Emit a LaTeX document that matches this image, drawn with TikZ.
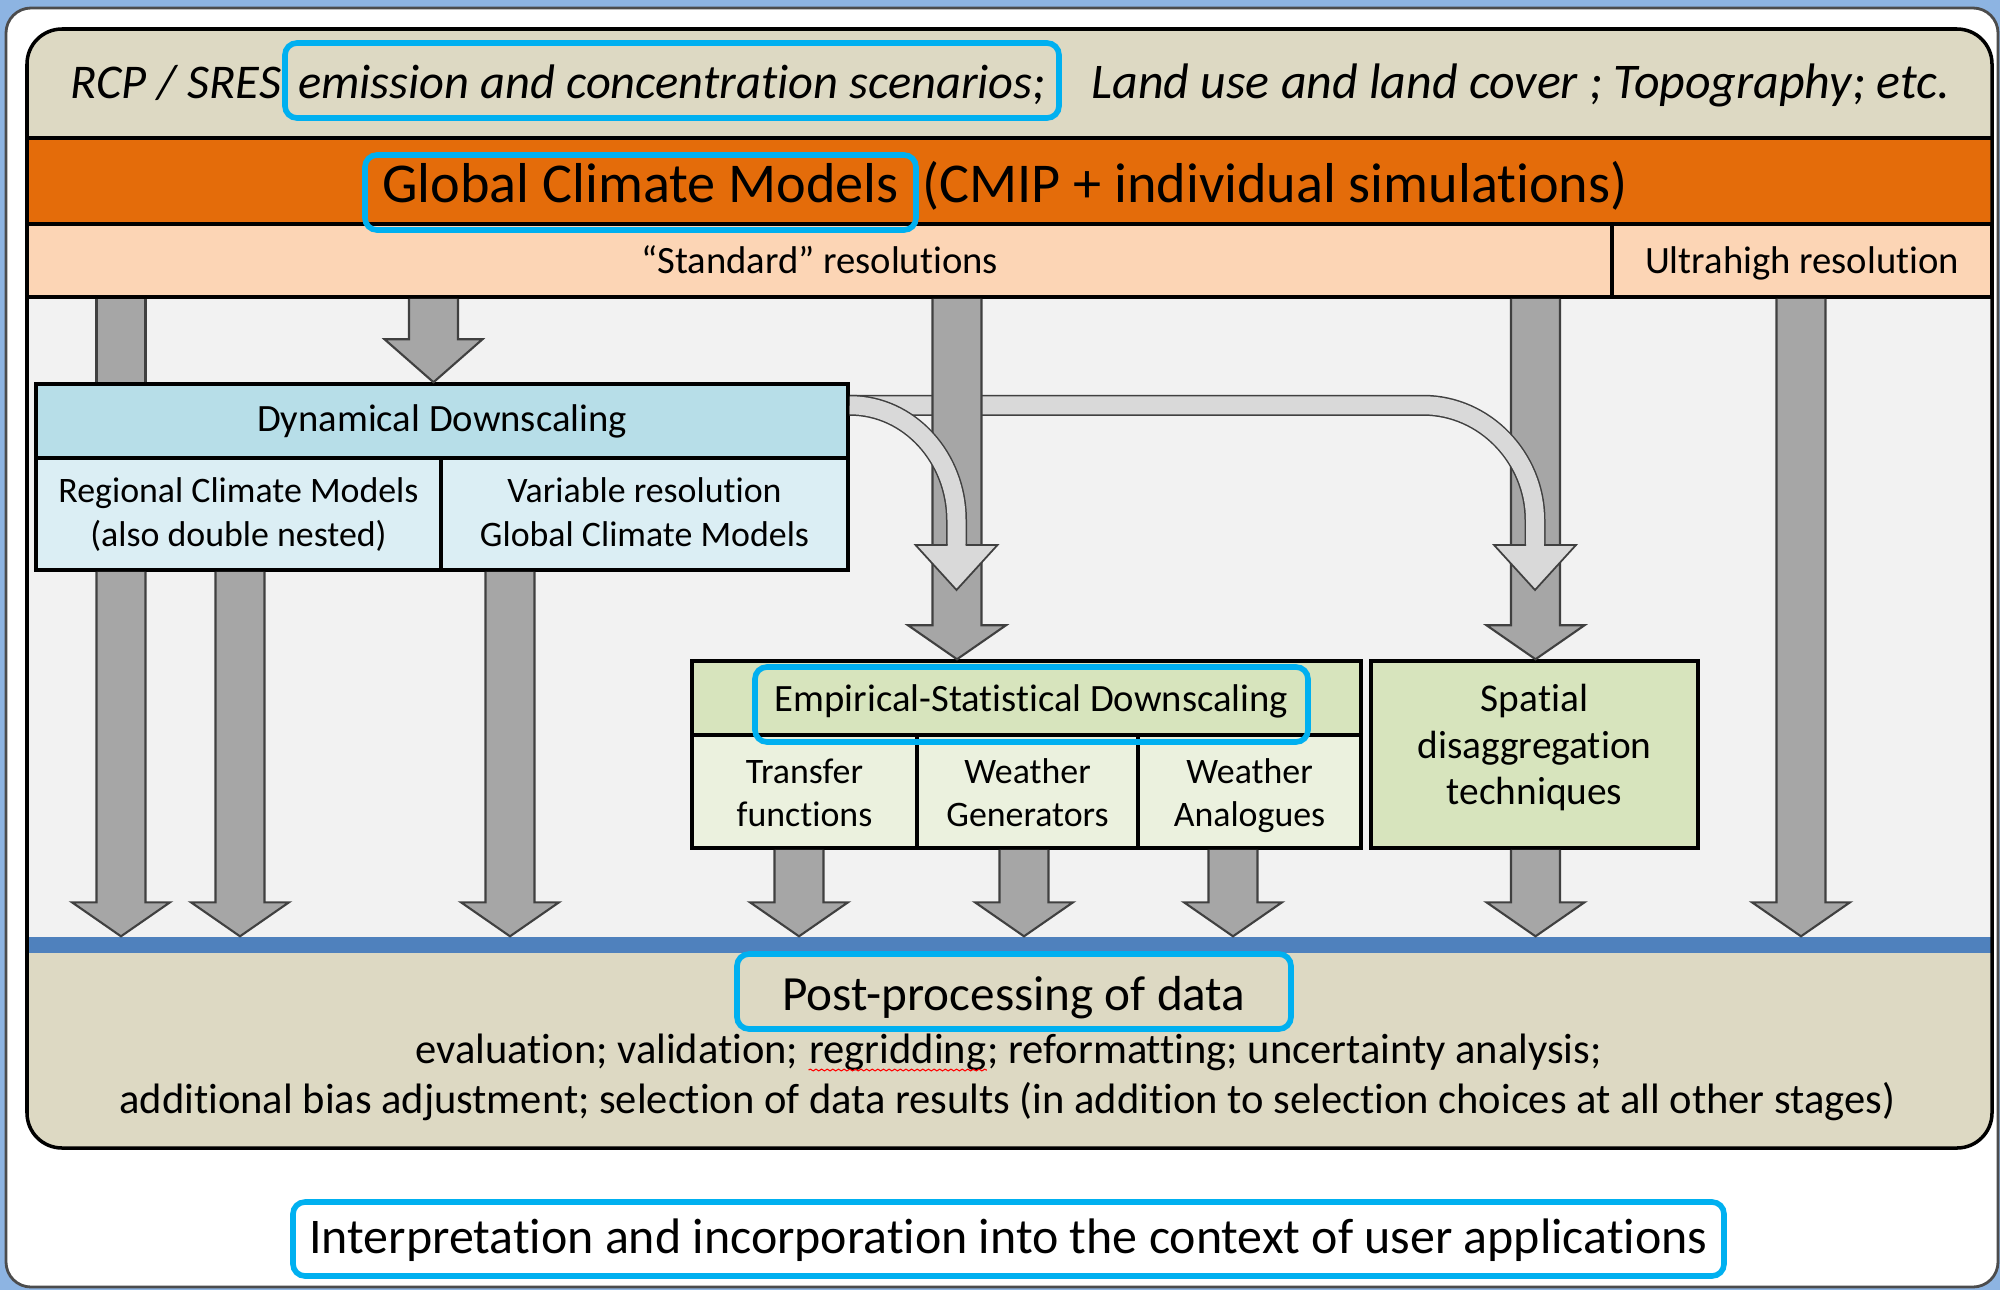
\documentclass[tikz,border=0pt]{standalone}
\usepackage{fontspec}
\setmainfont{Carlito}[Ligatures={TeX,NoCommon}]
\usetikzlibrary{calc,decorations.pathmorphing}

\definecolor{frameblue}{HTML}{8DB4E2}
\definecolor{beige}{HTML}{DDD9C3}
\definecolor{gcmorange}{HTML}{E46C0A}
\definecolor{peach}{HTML}{FCD5B5}
\definecolor{panelgray}{HTML}{F2F2F2}
\definecolor{bandblue}{HTML}{4F81BD}
\definecolor{hicyan}{HTML}{00B0F0}
\definecolor{ddhead}{HTML}{B7DEE8}
\definecolor{ddbody}{HTML}{DBEEF4}
\definecolor{esdhead}{HTML}{D7E4BD}
\definecolor{esdbody}{HTML}{EBF1DE}
\definecolor{arrowgray}{HTML}{A6A6A6}
\definecolor{arrowlight}{HTML}{D9D9D9}
\definecolor{arrowedge}{HTML}{404040}

% block arrow: [head length]{column}{from}{to}
\newcommand\bigarrow[4][0.34]{%
  \filldraw[darrow] ($(#3 -| #2)+(-0.245,0)$) -- ($(#4 -| #2)+(-0.245,-#1)$)
    -- ($(#4 -| #2)+(-0.49,-#1)$) -- (#4 -| #2) -- ($(#4 -| #2)+(0.49,-#1)$)
    -- ($(#4 -| #2)+(0.245,-#1)$) -- ($(#3 -| #2)+(0.245,0)$);}
\newcommand\bigshaft[3]{%
  \fill[arrowgray] ($(#2 -| #1)+(-0.245,0)$) rectangle ($(#3 -| #1)+(0.245,0)$);
  \draw[darrow] ($(#2 -| #1)+(-0.245,0)$) -- ($(#3 -| #1)+(-0.245,0)$)
    ($(#2 -| #1)+(0.245,0)$) -- ($(#3 -| #1)+(0.245,0)$);}
\newcommand\lighthead[1]{%
  \filldraw[lhead] ($(#1)+(-0.09,-0.45)$) -- ($(#1)+(-0.41,-0.45)$) -- (#1)
    -- ($(#1)+(0.41,-0.45)$) -- ($(#1)+(0.09,-0.45)$);}
\newcommand\toprow{\rule{0pt}{11pt}}
\newcommand\lastrow[1]{\rule[-#1]{0pt}{#1}}

\begin{document}
\begin{tikzpicture}[x=1cm, y=-1cm,
    every node/.append style={align=center, inner sep=0pt},
    cell/.style={draw, line width=1pt, font=\fontsize{11}{12}\selectfont},
    bodycell/.style={cell, font=\fontsize{10.2}{12.3}\selectfont},
    hilite/.style={draw=hicyan, line width=1.6pt, rounded corners=0.12cm},
    scen/.style={font=\fontsize{13.8}{16}\selectfont\itshape},
    post/.style={font=\fontsize{12.1}{14}\selectfont},
    darrow/.style={fill=arrowgray, draw=arrowedge, line width=0.6pt},
    lhead/.style={fill=arrowlight, draw=arrowedge, line width=0.5pt},
    lshaft/.style={draw=arrowlight, line width=0.18cm, preaction={draw=arrowedge, line width=0.21cm}}]

  \useasboundingbox (0,0) rectangle (20,12.9);
  \fill[frameblue] (0,0) rectangle (20,12.9);
  \draw[fill=white, draw=black!70, line width=0.8pt, rounded corners=0.25cm] (0.06,0.08) rectangle (19.98,12.87);

  % panel
  \fill[beige, rounded corners=0.35cm] (0.27,0.29) rectangle (19.92,11.48);
  \fill[gcmorange] (0.27,1.38) rectangle (19.92,2.24);
  \fill[panelgray] (0.27,2.97) rectangle (19.92,9.37);
  \draw[line width=1pt] (0.27,1.38) -- (19.92,1.38) (0.27,2.24) -- (19.92,2.24);

  \node[scen, anchor=base west] (rcp) at (0.70,0.98) {RCP / SRES};
  \node[hilite, scen, minimum width=7.74cm, text height=0.55cm, text depth=0.20cm, anchor=base] (emis) at (6.72,0.98) {emission and concentration scenarios;};
  \node[scen, font=\fontsize{14.2}{16}\selectfont\itshape, anchor=base west] (land) at (10.91,0.98) {Land use and land cover ; Topography; etc.};

  \node[cell, fill=peach, minimum width=15.85cm, minimum height=0.73cm, text height=0.30cm, text depth=0.05cm] (std) at (8.195,2.605) {“Standard” resolutions};
  \node[cell, fill=peach, minimum width=3.80cm, minimum height=0.73cm, text height=0.30cm, text depth=0.05cm] (ultra) at (18.02,2.605) {Ultrahigh resolution};
  \node[fill=bandblue, minimum width=19.65cm, minimum height=0.16cm] (band) at (10.095,9.45) {};

  \node[hilite, font=\fontsize{16}{19}\selectfont, minimum width=5.51cm, text height=0.47cm, text depth=0.28cm, anchor=base] (gcm) at (6.405,2.02) {Global Climate Models};
  \node[font=\fontsize{16}{19}\selectfont, anchor=base west] (cmip) at ($(gcm.base east)+(0.03,0)$) {(CMIP + individual simulations)};

  % downscaling boxes
  \node[cell, fill=ddhead, minimum width=8.12cm, minimum height=0.74cm] (ddh) at (4.42,4.21) {Dynamical Downscaling};
  \node[bodycell, fill=ddbody, minimum width=4.05cm, minimum height=1.12cm] (rcm) at (2.385,5.14) {\toprow Regional Climate Models\\(also double nested)\lastrow{5pt}};
  \node[bodycell, fill=ddbody, minimum width=4.07cm, minimum height=1.12cm] (vgcm) at (6.445,5.14) {\toprow Variable resolution\\Global Climate Models\lastrow{5pt}};

  \node[cell, fill=esdhead, minimum width=6.69cm, minimum height=0.74cm] (esdh) at (10.265,6.98) {};
  \node[bodycell, fill=esdbody, minimum width=2.25cm, minimum height=1.13cm] (tf) at (8.045,7.915) {\toprow Transfer\\functions\lastrow{3.4pt}};
  \node[bodycell, fill=esdbody, minimum width=2.21cm, minimum height=1.13cm] (wg) at (10.275,7.915) {\toprow Weather\\Generators\lastrow{3.4pt}};
  \node[bodycell, fill=esdbody, minimum width=2.23cm, minimum height=1.13cm] (wa) at (12.495,7.915) {\toprow Weather\\Analogues\lastrow{3.4pt}};
  \node[hilite, font=\fontsize{11}{12}\selectfont, minimum width=5.53cm, text height=0.44cm, text depth=0.31cm, anchor=base] (esd) at (10.315,7.11) {Empirical-Statistical Downscaling};
  \node[cell, fill=esdhead, minimum width=3.27cm, minimum height=1.87cm, font=\fontsize{11.2}{13.2}\selectfont] (sp) at (15.345,7.545) {Spatial\\disaggregation\\techniques\lastrow{5.6pt}};

  % arrows
  \coordinate (c1) at (1.21,0);  \coordinate (c2) at (2.40,0);
  \coordinate (c3) at (4.335,0); \coordinate (c4) at (5.10,0);
  \coordinate (c5) at (9.57,0);  \coordinate (c6) at (15.355,0);
  \coordinate (c7) at (18.01,0); \coordinate (c8) at (7.99,0);
  \coordinate (c9) at (10.24,0); \coordinate (c10) at (12.33,0);
  \coordinate (split) at ($(ddh.north east)+(0,0.23)$);
  \coordinate (tipA) at (9.565,5.90);
  \coordinate (tipB) at (15.35,5.90);

  \bigshaft{c1}{std.south}{ddh.north}
  \bigarrow[0.43]{c3}{std.south}{ddh.north}
  \bigarrow{c7}{ultra.south}{band.north}
  \bigarrow{c6}{std.south}{sp.north}
  \draw[lshaft] (split) -- ($(split -| tipB)+(-1.12,0)$) .. controls +(0.62,0) and +(0,-0.62) .. ($(tipB)+(0,-0.70)$) -- ($(tipB)+(0,-0.44)$);
  \lighthead{tipB}
  \bigarrow{c5}{std.south}{esdh.north}
  \draw[lshaft] (split) .. controls +(0.6,0) and +(0,-0.62) .. ($(tipA)+(0,-0.70)$) -- ($(tipA)+(0,-0.44)$);
  \lighthead{tipA}
  \foreach \c/\from in {c1/rcm, c2/rcm, c4/vgcm, c8/tf, c9/wg, c10/wa, c6/sp}
    \bigarrow{\c}{\from.south}{band.north};

  % post-processing
  \node[hilite, font=\fontsize{14}{17}\selectfont, minimum width=5.54cm, text height=0.56cm, text depth=0.19cm, anchor=base] (post) at (10.14,10.10) {Post-processing of data};
  \node[post, anchor=base west] (tasks) at (4.15,10.63) {evaluation; validation;};
  \node[post, anchor=base west] (regrid) at ($(tasks.base east)+(0.095,0)$) {regridding};
  \node[post, anchor=base west] (tasks2) at (regrid.base east) {; reformatting; uncertainty analysis;};
  \draw[red, line width=0.3pt, decorate, decoration={snake, amplitude=0.25pt, segment length=1.6pt}]
    ($(regrid.base west)+(0,0.07)$) -- ($(regrid.base east)+(0,0.07)$);
  \node[post, anchor=base] (extra) at (10.075,11.13) {additional bias adjustment; selection of data results (in addition to selection choices at all other stages)};
  \draw[line width=1pt, rounded corners=0.35cm] (0.27,0.29) rectangle (19.92,11.48);

  \node[hilite, fill=white, font=\fontsize{14.2}{17}\selectfont, minimum width=14.31cm, text height=0.51cm, text depth=0.23cm, anchor=base] (interp) at (10.085,12.53) {Interpretation and incorporation into the context of user applications};
\end{tikzpicture}
\end{document}
